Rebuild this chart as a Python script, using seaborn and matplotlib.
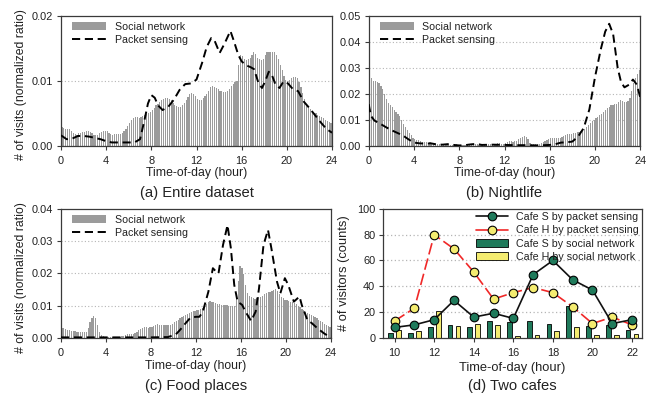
import numpy as np
import pandas as pd
import matplotlib
matplotlib.use("Agg")
import matplotlib.pyplot as plt
import seaborn as sns
from matplotlib.lines import Line2D
from matplotlib.patches import Patch

# ---------------- data ----------------
# social network: 10-minute bins (144 per day)
social_all = [
    0.0029, 0.0027, 0.0026, 0.0026, 0.0025, 0.0023,
    0.0020, 0.0018, 0.0017, 0.0019, 0.0020, 0.0021,
    0.0021, 0.0022, 0.0022, 0.0021, 0.0019, 0.0017,
    0.0016, 0.0017, 0.0019, 0.0021, 0.0022, 0.0023,
    0.0022, 0.0020, 0.0018, 0.0017, 0.0018, 0.0018,
    0.0018, 0.0018, 0.0019, 0.0022, 0.0026, 0.0030,
    0.0035, 0.0040, 0.0043, 0.0044, 0.0044, 0.0043,
    0.0045, 0.0046, 0.0047, 0.0049, 0.0050, 0.0052,
    0.0055, 0.0058, 0.0062, 0.0065, 0.0068, 0.0070,
    0.0072, 0.0073, 0.0073, 0.0072, 0.0070, 0.0066,
    0.0063, 0.0061, 0.0060, 0.0060, 0.0062, 0.0066,
    0.0070, 0.0075, 0.0080, 0.0082, 0.0080, 0.0076,
    0.0072, 0.0070, 0.0071, 0.0073, 0.0076, 0.0080,
    0.0085, 0.0090, 0.0092, 0.0091, 0.0089, 0.0087,
    0.0085, 0.0084, 0.0083, 0.0083, 0.0085, 0.0088,
    0.0092, 0.0095, 0.0098, 0.0100, 0.0125, 0.0140,
    0.0138, 0.0134, 0.0132, 0.0133, 0.0135, 0.0140,
    0.0144, 0.0142, 0.0136, 0.0133, 0.0132, 0.0134,
    0.0140, 0.0144, 0.0145, 0.0145, 0.0145, 0.0144,
    0.0140, 0.0133, 0.0125, 0.0116, 0.0108, 0.0101,
    0.0100, 0.0102, 0.0104, 0.0106, 0.0106, 0.0104,
    0.0098, 0.0091, 0.0082, 0.0072, 0.0065, 0.0060,
    0.0056, 0.0053, 0.0051, 0.0050, 0.0048, 0.0046,
    0.0044, 0.0042, 0.0040, 0.0038, 0.0036, 0.0035,
]
social_night = [
    0.0273, 0.0262, 0.0250, 0.0248, 0.0247, 0.0240,
    0.0232, 0.0218, 0.0200, 0.0180, 0.0163, 0.0155,
    0.0148, 0.0138, 0.0130, 0.0122, 0.0115, 0.0100,
    0.0085, 0.0072, 0.0060, 0.0050, 0.0040, 0.0030,
    0.0026, 0.0023, 0.0021, 0.0019, 0.0016, 0.0014,
    0.0013, 0.0012, 0.0013, 0.0012, 0.0010, 0.0008,
    0.0007, 0.0006, 0.0005, 0.0005, 0.0006, 0.0005,
    0.0005, 0.0004, 0.0004, 0.0005, 0.0005, 0.0004,
    0.0003, 0.0003, 0.0004, 0.0004, 0.0005, 0.0005,
    0.0006, 0.0006, 0.0005, 0.0005, 0.0004, 0.0004,
    0.0005, 0.0006, 0.0007, 0.0007, 0.0006, 0.0006,
    0.0007, 0.0008, 0.0009, 0.0009, 0.0008, 0.0008,
    0.0012, 0.0016, 0.0018, 0.0017, 0.0016, 0.0018,
    0.0020, 0.0024, 0.0030, 0.0035, 0.0037, 0.0033,
    0.0025, 0.0012, 0.0008, 0.0007, 0.0007, 0.0008,
    0.0008, 0.0010, 0.0013, 0.0018, 0.0022, 0.0025,
    0.0028, 0.0029, 0.0029, 0.0028, 0.0029, 0.0030,
    0.0032, 0.0036, 0.0040, 0.0044, 0.0046, 0.0047,
    0.0048, 0.0050, 0.0052, 0.0054, 0.0058, 0.0060,
    0.0065, 0.0072, 0.0080, 0.0087, 0.0094, 0.0100,
    0.0106, 0.0112, 0.0118, 0.0124, 0.0130, 0.0136,
    0.0145, 0.0150, 0.0155, 0.0158, 0.0160, 0.0162,
    0.0170, 0.0176, 0.0174, 0.0170, 0.0168, 0.0172,
    0.0185, 0.0210, 0.0240, 0.0262, 0.0278, 0.0290,
]
social_food = [
    0.0031, 0.0030, 0.0027, 0.0025, 0.0024, 0.0022,
    0.0021, 0.0020, 0.0019, 0.0019, 0.0018, 0.0018,
    0.0017, 0.0017, 0.0030, 0.0048, 0.0060, 0.0066,
    0.0060, 0.0040, 0.0018, 0.0008, 0.0004, 0.0003,
    0.0003, 0.0003, 0.0002, 0.0002, 0.0002, 0.0003,
    0.0003, 0.0003, 0.0004, 0.0006, 0.0009, 0.0010,
    0.0010, 0.0010, 0.0012, 0.0015, 0.0019, 0.0024,
    0.0028, 0.0030, 0.0032, 0.0032, 0.0031, 0.0032,
    0.0033, 0.0036, 0.0040, 0.0042, 0.0041, 0.0040,
    0.0039, 0.0038, 0.0039, 0.0040, 0.0041, 0.0044,
    0.0048, 0.0052, 0.0056, 0.0060, 0.0064, 0.0068,
    0.0071, 0.0075, 0.0078, 0.0080, 0.0082, 0.0083,
    0.0085, 0.0087, 0.0089, 0.0092, 0.0098, 0.0106,
    0.0112, 0.0114, 0.0112, 0.0110, 0.0108, 0.0106,
    0.0104, 0.0103, 0.0102, 0.0102, 0.0101, 0.0100,
    0.0099, 0.0098, 0.0100, 0.0120, 0.0175, 0.0222,
    0.0218, 0.0198, 0.0165, 0.0140, 0.0130, 0.0127,
    0.0122, 0.0120, 0.0123, 0.0126, 0.0128, 0.0130,
    0.0135, 0.0140, 0.0142, 0.0143, 0.0145, 0.0148,
    0.0150, 0.0145, 0.0135, 0.0128, 0.0122, 0.0118,
    0.0116, 0.0114, 0.0112, 0.0110, 0.0107, 0.0104,
    0.0100, 0.0096, 0.0090, 0.0085, 0.0080, 0.0076,
    0.0074, 0.0071, 0.0068, 0.0064, 0.0060, 0.0056,
    0.0052, 0.0048, 0.0044, 0.0040, 0.0036, 0.0032,
]

# packet sensing curves (hour, value)
packet_all_hour = [0, 0.5, 1, 1.5, 2, 2.5, 3, 3.5, 4, 4.5, 5, 5.5, 6, 6.5, 7, 7.4, 7.7,
                   8, 8.3, 8.6, 9, 9.5, 10, 10.5, 11, 11.5, 12, 12.5, 12.9, 13.3, 13.6,
                   14.05, 14.5, 15.0, 15.3, 15.7, 16, 16.4, 16.8, 17.1, 17.5, 17.8, 18.1,
                   18.4, 18.7, 19.0, 19.35, 19.7, 20.1, 20.5, 21.0, 21.5, 22, 22.5, 23, 23.5, 24]
packet_all_val = [0.0016, 0.0010, 0.0011, 0.0015, 0.0015, 0.0014, 0.0012, 0.0010, 0.0007,
                  0.0005, 0.0005, 0.0005, 0.0005, 0.0005, 0.0010, 0.0040, 0.0065,
                  0.0078, 0.0074, 0.0062, 0.0055, 0.0060, 0.0071, 0.0086, 0.0095, 0.0096,
                  0.0102, 0.0128, 0.0152, 0.0166, 0.0162, 0.0143, 0.0158, 0.0177, 0.0162,
                  0.0140, 0.0130, 0.0124, 0.0121, 0.0118, 0.0096, 0.0089, 0.0100, 0.0114,
                  0.0108, 0.0094, 0.0089, 0.0099, 0.0096, 0.0088, 0.0084, 0.0068, 0.0058,
                  0.0047, 0.0036, 0.0026, 0.0020]

packet_night_hour = [0, 0.2, 0.5, 1, 1.5, 2, 2.5, 3, 3.5, 4, 4.5, 5, 5.5, 6, 6.5, 7, 7.5,
                     8, 8.5, 9, 9.5, 10, 11, 12, 13, 14, 15, 16, 16.5, 17, 17.5, 18, 18.5,
                     19, 19.5, 20, 20.5, 20.9, 21.25, 21.6, 22.0, 22.3, 22.6, 23.0, 23.35,
                     23.7, 24]
packet_night_val = [0.0160, 0.0115, 0.0097, 0.0085, 0.0072, 0.0060, 0.0050, 0.0040, 0.0025,
                    0.0012, 0.0009, 0.0008, 0.0009, 0.0005, 0.0004, 0.0006, 0.0003, 0.0001,
                    0.0002, 0.0005, 0.0007, 0.0003, 0.0004, 0.0003, 0.0002, 0.0002, 0.0001,
                    0.0003, 0.0006, 0.0012, 0.0013, 0.0016, 0.0035, 0.0068, 0.0140, 0.0265,
                    0.0370, 0.0440, 0.0470, 0.0430, 0.0300, 0.0245, 0.0225, 0.0235, 0.0255,
                    0.0235, 0.0185]

packet_food_hour = [0, 2, 4, 6, 8, 9.5, 10.2, 10.6, 11.0, 11.5, 12.0, 12.3, 12.6, 13.1, 13.5,
                    13.8, 14.0, 14.4, 14.8, 15.1, 15.4, 15.7, 16.1, 16.4, 16.9, 17.3, 17.6,
                    18.0, 18.4, 18.7, 19.2, 19.5, 19.9, 20.2, 20.7, 21.2, 21.4, 21.9, 22.3,
                    22.8, 23.4, 24]
packet_food_val = [0.0001, 0.0001, 0.0001, 0.0001, 0.0001, 0.0002, 0.0010, 0.0025, 0.0042,
                   0.0062, 0.0065, 0.0065, 0.0080, 0.0143, 0.0216, 0.0205, 0.0200, 0.0288,
                   0.0350, 0.0278, 0.0164, 0.0112, 0.0102, 0.0081, 0.0052, 0.0081, 0.0153,
                   0.0288, 0.0335, 0.0278, 0.0174, 0.0138, 0.0185, 0.0164, 0.0112, 0.0128,
                   0.0102, 0.0055, 0.0045, 0.0029, 0.0013, 0.0000]

# two cafes
cafe_hours = [10, 11, 12, 13, 14, 15, 16, 17, 18, 19, 20, 21, 22]
cafe_s_packet = [8, 10, 14, 29, 16, 19, 15, 49, 60, 45, 37, 11, 14]
cafe_h_packet = [13, 23, 80, 69, 51, 30, 35, 39, 35, 24, 11, 16, 10]
cafe_s_social = [4, 4, 8, 10, 8, 13, 12, 13, 11, 25, 9, 10, 6]
cafe_h_social = [6, 5, 21, 9, 11, 10, 1, 2, 5, 8, 2, 2, 3]

titles = ["(a) Entire dataset", "(b) Nightlife", "(c) Food places", "(d) Two cafes"]

# ---------------- style ----------------
sns.set_theme(style="white")
plt.rcParams["font.family"] = ["Liberation Sans", "DejaVu Sans"]

GRAY = "#9b9b9b"
GREEN = "#1f7a5b"
YELLOW = "#f4ec70"
RED = "#f02828"
TXT = "#222222"
TICK_FS = 7.9
LAB_FS = 8.8
TITLE_FS = 10.6
LEG_FS = 7.7

W, H = 656, 399
fig = plt.figure(figsize=(W / 100, H / 100), dpi=100)


def px_axes(l, t, r, b):
    return fig.add_axes([l / W, 1 - b / H, (r - l) / W, (b - t) / H])


ax_a = px_axes(61, 16, 332, 145.7)
ax_b = px_axes(368.7, 16, 640.3, 145.7)
ax_c = px_axes(61, 209, 331, 337.7)
ax_d = px_axes(383, 209, 642.3, 337.7)

bin_centers = (np.arange(144) + 0.5) / 6.0


def style_axes(ax):
    for s in ax.spines.values():
        s.set_color("#3a3a3a")
        s.set_linewidth(0.9)
    ax.tick_params(axis="both", which="major", direction="out", length=3, width=0.8,
                   color="#3a3a3a", labelcolor=TXT, labelsize=TICK_FS,
                   bottom=True, left=True, top=False, right=False)
    ax.tick_params(axis="x", pad=4.5)
    ax.tick_params(axis="y", pad=2.5)
    ax.set_facecolor("white")


def hist_panel(ax, social, ph, pv, ymax, yticks, title, ylabel, xlab_y, title_y):
    ax.set_axisbelow(True)
    for yt in yticks[1:-1]:
        ax.axhline(yt, color="#b5b5b5", lw=0.8, ls=(0, (1, 2)), zorder=0)
    sns.barplot(x=bin_centers, y=social, native_scale=True, color=GRAY,
                width=0.62, saturation=1, edgecolor="none", linewidth=0,
                errorbar=None, ax=ax, zorder=2)
    sns.lineplot(x=ph, y=pv, color="black", lw=1.4, linestyle=(0, (4.2, 2.4)),
                 ax=ax, zorder=3, sort=False)
    ax.set_xlim(0, 24)
    ax.set_ylim(0, ymax)
    ax.set_xticks(range(0, 25, 4))
    ax.set_xticklabels([str(v) for v in range(0, 25, 4)])
    ax.set_yticks(yticks)
    ax.set_yticklabels([f"{v:.2f}" for v in yticks])
    style_axes(ax)
    ax.set_xlabel("Time-of-day (hour)", fontsize=LAB_FS, color=TXT)
    ax.xaxis.set_label_coords(0.5, xlab_y)
    if ylabel:
        ax.set_ylabel("# of visits (normalized ratio)", fontsize=LAB_FS, color=TXT)
        ax.yaxis.set_label_coords(-0.125, 0.47)
    else:
        ax.set_ylabel("")
    ax.text(0.5, title_y, title, transform=ax.transAxes, ha="center", va="center",
            fontsize=TITLE_FS, color=TXT)
    handles = [Patch(facecolor=GRAY, edgecolor="none"),
               Line2D([], [], color="black", lw=1.4, linestyle=(0, (4.2, 2.4)))]
    leg = ax.legend(handles, ["Social network", "Packet sensing"], loc="upper left",
                    bbox_to_anchor=(0.04, 0.955), frameon=False, fontsize=LEG_FS,
                    handlelength=3.2, handleheight=0.75, handletextpad=0.8,
                    labelspacing=0.3, borderpad=0, borderaxespad=0)
    for t in leg.get_texts():
        t.set_color(TXT)


hist_panel(ax_a, social_all, packet_all_hour, packet_all_val, 0.02,
           [0.0, 0.01, 0.02], titles[0], True, -0.168, -0.365)
hist_panel(ax_b, social_night, packet_night_hour, packet_night_val, 0.05,
           [0.0, 0.01, 0.02, 0.03, 0.04, 0.05], titles[1], False, -0.168, -0.365)
hist_panel(ax_c, social_food, packet_food_hour, packet_food_val, 0.04,
           [0.0, 0.01, 0.02, 0.03, 0.04], titles[2], True, -0.175, -0.373)

# ---------------- panel d ----------------
ax = ax_d
ax.set_axisbelow(True)
for yt in [20, 40, 60, 80]:
    ax.axhline(yt, color="#b5b5b5", lw=0.9, ls=(0, (1, 2)), zorder=0)

bars_df = pd.DataFrame({
    "hour": cafe_hours * 2,
    "count": cafe_s_social + cafe_h_social,
    "kind": ["Cafe S by social network"] * len(cafe_hours) + ["Cafe H by social network"] * len(cafe_hours),
})
sns.barplot(data=bars_df, x="hour", y="count", hue="kind", native_scale=True,
            palette=[GREEN, YELLOW], saturation=1, width=0.8, gap=0.4,
            edgecolor="black", linewidth=0.6, errorbar=None, legend=False, ax=ax, zorder=2)
sns.lineplot(x=cafe_hours, y=cafe_h_packet, color=RED, lw=1.2, linestyle=(0, (7, 2.5)),
             marker="o", markersize=6.2, markerfacecolor=YELLOW, markeredgecolor="black",
             markeredgewidth=0.8, ax=ax, zorder=4)
sns.lineplot(x=cafe_hours, y=cafe_s_packet, color="#111111", lw=1.2,
             marker="o", markersize=6.2, markerfacecolor=GREEN, markeredgecolor="black",
             markeredgewidth=0.8, ax=ax, zorder=5)
ax.set_xlim(9.41, 22.52)
ax.set_ylim(0, 100)
ax.set_xticks(range(10, 23, 2))
ax.set_xticklabels([str(v) for v in range(10, 23, 2)])
ax.set_yticks(range(0, 101, 20))
ax.set_yticklabels([str(v) for v in range(0, 101, 20)])
style_axes(ax)
ax.set_xlabel("Time-of-day (hour)", fontsize=9.3, color=TXT)
ax.xaxis.set_label_coords(0.5, -0.186)
ax.set_ylabel("# of visitors (counts)", fontsize=9.3, color=TXT)
ax.yaxis.set_label_coords(-0.127, 0.5)
ax.text(0.5, -0.373, titles[3], transform=ax.transAxes, ha="center", va="center",
        fontsize=TITLE_FS, color=TXT)
handles = [
    Line2D([], [], color="#111111", lw=1.2, marker="o", markersize=6.2,
           markerfacecolor=GREEN, markeredgecolor="black", markeredgewidth=0.8),
    Line2D([], [], color=RED, lw=1.2, marker="o", markersize=6.2,
           markerfacecolor=YELLOW, markeredgecolor="black", markeredgewidth=0.8),
    Patch(facecolor=GREEN, edgecolor="black", linewidth=0.6),
    Patch(facecolor=YELLOW, edgecolor="black", linewidth=0.6),
]
labels = ["Cafe S by packet sensing", "Cafe H by packet sensing",
          "Cafe S by social network", "Cafe H by social network"]
leg = ax.legend(handles, labels, loc="upper right", bbox_to_anchor=(0.985, 0.975),
                frameon=False, fontsize=LEG_FS, handlelength=3.0, handleheight=0.75,
                handletextpad=0.7, labelspacing=0.3, borderpad=0, borderaxespad=0)
for t in leg.get_texts():
    t.set_color(TXT)

fig.savefig("out.png", dpi=100, facecolor="white")
